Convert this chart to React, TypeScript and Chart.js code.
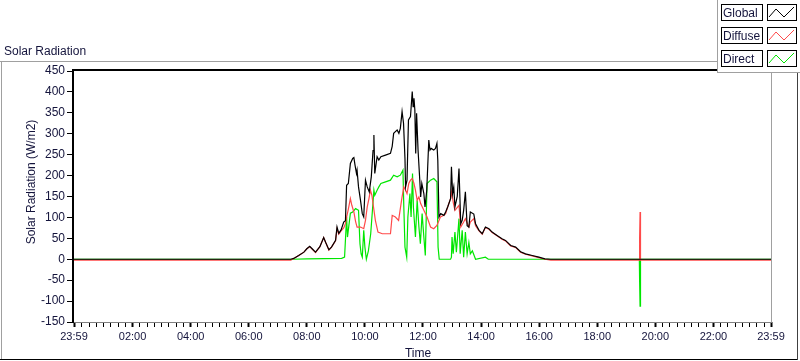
import React, { useEffect, useRef } from "react";
import { Chart, registerables } from "chart.js";

Chart.register(...registerables);

// ---- axis range (hours; 23:59 of previous day to 23:59) ----
const START = -1 / 60;
const END = 23 + 59 / 60;

// ---- series data (time in decimal hours, value in W/m2) ----
const globalTime = [
  START, 7.45, 7.55, 7.72, 7.9, 8.0, 8.1, 8.2, 8.3, 8.45, 8.58, 8.65, 8.76, 8.85, 8.99,
  9.04, 9.1, 9.18, 9.27, 9.33, 9.37, 9.43, 9.5, 9.58, 9.62, 9.66, 9.71, 9.73, 9.78, 9.85,
  9.91, 9.96, 10.02, 10.08, 10.15, 10.22, 10.28, 10.31, 10.34, 10.42, 10.48, 10.55, 10.71,
  10.88, 10.94, 10.99, 11.05, 11.11, 11.17, 11.22, 11.28, 11.33, 11.38, 11.4, 11.45, 11.5,
  11.57, 11.63, 11.66, 11.69, 11.72, 11.75, 11.78, 11.83, 11.89, 11.92, 11.96, 12.03, 12.07,
  12.13, 12.2, 12.24, 12.28, 12.37, 12.43, 12.48, 12.51, 12.55, 12.61, 12.72, 12.78, 12.85,
  12.95, 12.98, 13.02, 13.06, 13.1, 13.18, 13.24, 13.3, 13.35, 13.4, 13.46, 13.52, 13.58,
  13.63, 13.75, 13.81, 13.93, 14.04, 14.15, 14.27, 14.38, 14.55, 14.72, 14.84, 15.02, 15.19,
  15.36, 15.53, 15.76, 15.99, 16.2, 16.4, END,
];
const globalValue = [
  0, 0, 2, 9, 17, 25, 31, 24, 17, 30, 52, 40, 23, 29, 45,
  77, 62, 70, 89, 92, 177, 181, 229, 241, 243, 225, 205, 213, 173, 140,
  109, 101, 189, 173, 161, 197, 260, 297, 205, 245, 237, 245, 249,
  253, 270, 301, 305, 309, 301, 313, 353, 325, 240, 173, 189, 333,
  341, 401, 365, 385, 357, 253, 349, 261, 189, 149, 181, 157, 125,
  165, 285, 261, 265, 261, 265, 277, 237, 101, 109, 105, 113, 125,
  145, 221, 157, 173, 125, 150, 217, 85, 93, 117, 161, 80, 77,
  113, 108, 85, 69, 61, 77, 73, 65, 57, 49, 45, 33, 29,
  18, 13, 9, 5, 1, 0, 0,
];

const diffuseTime = [
  START, 7.45, 7.55, 7.72, 7.9, 8.0, 8.1, 8.2, 8.3, 8.45, 8.58, 8.65, 8.76, 8.85, 8.99,
  9.04, 9.1, 9.18, 9.27, 9.33, 9.37, 9.43, 9.5, 9.55, 9.62, 9.68, 9.73, 9.85, 9.96, 10.02,
  10.08, 10.14, 10.19, 10.24, 10.36, 10.45, 10.6, 10.88, 10.94, 11.05, 11.16, 11.28, 11.34,
  11.4, 11.45, 11.51, 11.57, 11.63, 11.69, 11.74, 11.8, 11.86, 11.92, 12.03, 12.14, 12.26,
  12.37, 12.48, 12.6, 12.72, 12.78, 12.85, 12.95, 12.98, 13.05, 13.1, 13.24, 13.3, 13.4,
  13.46, 13.58, 13.63, 13.75, 13.81, 13.93, 14.04, 14.15, 14.27, 14.38, 14.55, 14.72, 14.84,
  15.02, 15.19, 15.36, 15.53, 15.76, 15.99, 16.2, 16.4, 19.45, 19.46, 19.475, 19.49, END,
];
const diffuseValue = [
  -2, -2, 2, 9, 17, 25, 30, 23, 16, 30, 52, 40, 22, 29, 44,
  73, 60, 68, 75, 85, 101, 120, 145, 129, 113, 90, 77, 77, 73, 93,
  125, 145, 165, 153, 93, 65, 61, 61, 105, 101, 93, 149, 173,
  165, 157, 181, 189, 193, 181, 165, 141, 149, 133, 117, 101, 77,
  73, 81, 101, 105, 109, 125, 145, 161, 133, 117, 129, 77, 89,
  97, 77, 89, 97, 80, 68, 60, 76, 72, 64, 56, 48, 44,
  32, 28, 17, 12, 8, 4, 0, -2, -2, 55, 113, -2, -2,
];

const directTime = [
  START, 7.5, 8.0, 9.2, 9.3, 9.37, 9.4, 9.5, 9.58, 9.68, 9.78, 9.83, 9.87, 9.91, 9.96,
  10.0, 10.05, 10.12, 10.2, 10.31, 10.34, 10.42, 10.48, 10.55, 10.71, 10.88, 10.99, 11.11,
  11.22, 11.31, 11.34, 11.38, 11.44, 11.48, 11.55, 11.59, 11.64, 11.67, 11.74, 11.8, 11.86,
  11.91, 11.97, 12.03, 12.08, 12.14, 12.26, 12.37, 12.48, 12.52, 12.56, 12.95, 12.98, 13.0,
  13.04, 13.1, 13.15, 13.24, 13.28, 13.35, 13.4, 13.46, 13.52, 13.58, 13.63, 13.7, 13.81,
  14.15, 14.25, 16.4, 19.45, 19.46, 19.475, 19.49, END,
];
const directValue = [
  0, 0, 1, 2, 5, 101, 53, 110, 113, 121, 117, 37, 13, 5, 69,
  29, 0, 20, 61, 165, 153, 165, 173, 181, 185, 189, 201, 197,
  201, 213, 125, 29, 5, 101, 157, 101, 205, 125, 53, 141, 77,
  37, 109, 53, 9, 181, 189, 193, 185, 29, 0, 0, 5, 53,
  13, 65, 17, 97, 13, 69, 5, 65, 13, 40, 13, 20, 0,
  5, 0, 0, 0, -54, -112, 0, 0,
];

// ---- labels / ticks ----
const seriesNames = ["Global", "Diffuse", "Direct"];
const seriesColors = ["#000000", "#ff4a4a", "#00e600"];
const xTickValues = [START, 2, 4, 6, 8, 10, 12, 14, 16, 18, 20, 22, END];
const xTickLabels = ["23:59", "02:00", "04:00", "06:00", "08:00", "10:00", "12:00", "14:00", "16:00", "18:00", "20:00", "22:00", "23:59"];
const xMinorStep = 0.25;
const yMin = -150;
const yMax = 450;
const yStep = 50;
const chartTitle = "Solar Radiation";
const yAxisTitle = "Solar Radiation (W/m2)";
const xAxisTitle = "Time";

const FONT = '"Liberation Sans", Arial, sans-serif';
const TEXT_COLOR = "#14143c";

function toPoints(t: number[], v: number[]) {
  return t.map((x, i) => ({ x, y: v[i] }));
}

function isMajor(v: number) {
  return xTickValues.some((m) => Math.abs(m - v) < 1e-6);
}

function buildXTicks() {
  const vals: number[] = [...xTickValues];
  for (let k = 1; k * xMinorStep < END - 0.1; k++) {
    const v = k * xMinorStep;
    if (!vals.some((m) => Math.abs(m - v) < 1e-6)) vals.push(v);
  }
  vals.sort((a, b) => a - b);
  return vals.map((value) => ({ value }));
}

const decorPlugin = {
  id: "decor",
  afterDraw(chart: any) {
    const ctx = chart.ctx as CanvasRenderingContext2D;
    const a = chart.chartArea;
    ctx.save();
    // outer panel
    ctx.fillStyle = "#a0a0a0";
    ctx.fillRect(0, 61, 717, 1);
    ctx.fillRect(1, 61, 1, 298);
    ctx.fillStyle = "#000";
    ctx.fillRect(0, 359, 798, 1);
    ctx.fillStyle = "#404040";
    ctx.fillRect(797, 72, 1, 288);

    // plot frame
    ctx.fillStyle = "#000";
    ctx.fillRect(a.left - 2, a.top - 2, a.right - a.left + 3, 2);
    ctx.fillRect(a.left - 2, a.top - 2, 2, a.bottom - a.top + 3);
    ctx.fillStyle = "#808080";
    ctx.fillRect(a.left, a.bottom, a.right - a.left + 1, 1);
    ctx.fillStyle = "#a0a0a0";
    ctx.fillRect(a.right, a.top, 1, a.bottom - a.top);

    // chart title
    ctx.fillStyle = TEXT_COLOR;
    ctx.font = `12px ${FONT}`;
    ctx.textAlign = "left";
    ctx.textBaseline = "alphabetic";
    ctx.fillText(chartTitle, 4, 55);

    // axis titles
    ctx.textAlign = "center";
    ctx.textBaseline = "alphabetic";
    ctx.fillText(xAxisTitle, 418, 357);
    ctx.save();
    ctx.translate(35, 182);
    ctx.rotate(-Math.PI / 2);
    ctx.fillText(yAxisTitle, 0, 0);
    ctx.restore();

    // legend panel
    ctx.fillStyle = "#ffffff";
    ctx.fillRect(717, 0, 83, 72);
    ctx.fillStyle = "#a0a0a0";
    ctx.fillRect(717, 0, 1, 73);
    ctx.fillRect(717, 72, 83, 1);
    seriesNames.forEach((name, i) => {
      const y0 = 4 + i * 23;
      ctx.strokeStyle = "#000";
      ctx.lineWidth = 1;
      ctx.strokeRect(721.5, y0 + 0.5, 41, 16);
      ctx.strokeRect(767.5, y0 + 0.5, 29, 16);
      ctx.fillStyle = TEXT_COLOR;
      ctx.textAlign = "left";
      ctx.fillText(name, 723, y0 + 13);
      ctx.strokeStyle = seriesColors[i];
      ctx.beginPath();
      ctx.moveTo(769, y0 + 13);
      ctx.lineTo(776, y0 + 5);
      ctx.lineTo(784, y0 + 13);
      ctx.lineTo(794, y0 + 3);
      ctx.stroke();
    });
    ctx.restore();
  },
};

export default function App() {
  const ref = useRef<HTMLCanvasElement>(null);
  useEffect(() => {
    document.body.style.margin = "0";
    const canvas = ref.current;
    if (!canvas) return;
    const series = [
      toPoints(globalTime, globalValue),
      toPoints(diffuseTime, diffuseValue),
      toPoints(directTime, directValue),
    ];
    const chart = new Chart(canvas, {
      type: "line",
      data: {
        datasets: seriesNames.map((name, i) => ({
          label: name,
          data: series[i],
          borderColor: seriesColors[i],
          backgroundColor: seriesColors[i],
          borderWidth: 1.2,
          pointRadius: 0,
          tension: 0,
          fill: false,
          order: i,
        })),
      },
      options: {
        animation: false,
        responsive: false,
        devicePixelRatio: 1,
        parsing: true,
        layout: { padding: { top: 71, right: 29, left: 0, bottom: 0 } },
        plugins: {
          legend: { display: false },
          title: { display: false },
          tooltip: { enabled: false },
        },
        events: [],
        scales: {
          x: {
            type: "linear",
            min: START,
            max: END,
            afterBuildTicks: (scale: any) => {
              scale.ticks = buildXTicks();
            },
            afterFit: (scale: any) => {
              scale.height = 39;
            },
            ticks: {
              autoSkip: false,
              maxRotation: 0,
              minRotation: 0,
              padding: 3,
              color: TEXT_COLOR,
              font: { family: FONT, size: 11 },
              callback: (value: any) => {
                const idx = xTickValues.findIndex((m) => Math.abs(m - Number(value)) < 1e-6);
                return idx >= 0 ? xTickLabels[idx] : "";
              },
            },
            grid: {
              drawOnChartArea: false,
              drawTicks: true,
              tickLength: 5,
              color: "#000",
              tickColor: "#000",
              tickWidth: (c: any) => (c.tick && isMajor(c.tick.value) ? 2 : 1),
            },
            border: { display: false },
          },
          y: {
            type: "linear",
            min: yMin,
            max: yMax,
            afterFit: (scale: any) => {
              scale.width = 74;
            },
            ticks: {
              stepSize: yStep,
              padding: 2,
              color: TEXT_COLOR,
              font: { family: FONT, size: 12 },
            },
            grid: {
              drawOnChartArea: false,
              drawTicks: true,
              tickLength: 7,
              color: "#000",
              tickColor: "#000",
            },
            border: { display: false },
          },
        },
      },
      plugins: [decorPlugin],
    } as any);
    return () => chart.destroy();
  }, []);
  return (
    <div style={{ width: 800, height: 361, position: "relative", background: "#fff" }}>
      <canvas ref={ref} width={800} height={361} style={{ display: "block", width: 800, height: 361 }} />
    </div>
  );
}
